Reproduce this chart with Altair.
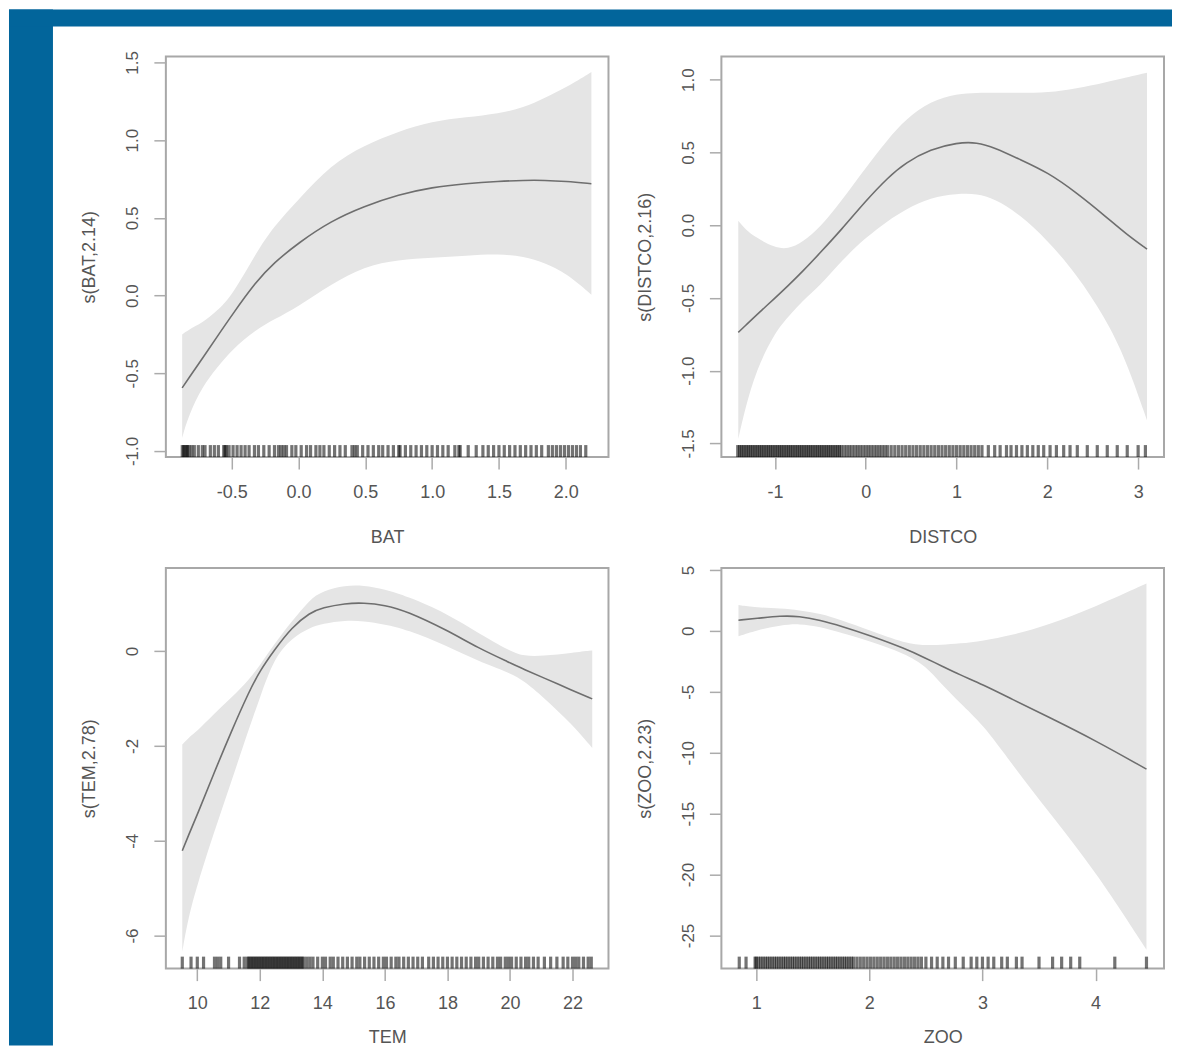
import altair as alt
import pandas as pd

BLUE = "#02659b"
TXT = "#555555"
FONT = "Liberation Sans"
BAND = "#e5e5e5"
LINE = "#6e6e6e"
W, H = 443, 401

# ---------------- BAT ----------------
bat_x = [-0.871, -0.826, -0.719, -0.612, -0.5, -0.318, -0.185, 0.0, 0.243, 0.491, 0.75, 0.998, 1.257, 1.498, 1.685, 1.845, 2.0, 2.192]
bat_fit = [-0.594, -0.537, -0.403, -0.268, -0.127, 0.09, 0.21, 0.34, 0.48, 0.575, 0.65, 0.697, 0.721, 0.735, 0.742, 0.742, 0.735, 0.72]
bat_hi = [-0.251, -0.22, -0.176, -0.10, -0.004, 0.275, 0.446, 0.618, 0.843, 0.966, 1.058, 1.122, 1.148, 1.172, 1.208, 1.273, 1.337, 1.438]
bat_lo = [-0.916, -0.777, -0.584, -0.466, -0.348, -0.219, -0.155, -0.069, 0.071, 0.189, 0.232, 0.242, 0.258, 0.268, 0.253, 0.210, 0.146, 0.006]
bat_rug = [-0.87, -0.86, -0.85, -0.84, -0.83, -0.82, -0.80, -0.78, -0.75, -0.72, -0.70, -0.66, -0.63, -0.60,
           -0.56, -0.55, -0.54, -0.52, -0.49, -0.46, -0.43, -0.40, -0.37, -0.33, -0.30, -0.26, -0.22, -0.18,
           -0.15, -0.13, -0.11, -0.09, -0.05, -0.02, 0.02, 0.06, 0.09, 0.13, 0.16, 0.19, 0.23, 0.27, 0.31,
           0.35, 0.40, 0.42, 0.44, 0.48, 0.52, 0.56, 0.60, 0.63, 0.67, 0.71, 0.75, 0.76, 0.80, 0.84, 0.88,
           0.92, 0.96, 1.00, 1.04, 1.08, 1.12, 1.17, 1.20, 1.21, 1.27, 1.33, 1.38, 1.42, 1.46, 1.50, 1.54,
           1.58, 1.62, 1.66, 1.70, 1.74, 1.78, 1.82, 1.87, 1.90, 1.93, 1.96, 1.99, 2.02, 2.05, 2.08, 2.11, 2.15]
bat_xticks = [-0.5, 0.0, 0.5, 1.0, 1.5, 2.0]
bat_yticks = [-1.0, -0.5, 0.0, 0.5, 1.0, 1.5]

# ---------------- DISTCO ----------------
dis_x = [-1.404, -1.325, -1.208, -1.012, -0.855, -0.698, -0.502, -0.267, 0.0, 0.243, 0.44, 0.714, 1.008, 1.224, 1.42, 1.694, 2.008, 2.32, 2.635, 2.87, 3.098]
dis_fit = [-0.737, -0.69, -0.62, -0.508, -0.416, -0.32, -0.19, -0.03, 0.167, 0.327, 0.43, 0.522, 0.568, 0.57, 0.533, 0.453, 0.362, 0.224, 0.064, -0.062, -0.165]
dis_hi = [0.03, -0.03, -0.085, -0.153, -0.165, -0.119, -0.016, 0.167, 0.396, 0.59, 0.728, 0.854, 0.904, 0.91, 0.911, 0.91, 0.911, 0.94, 0.98, 1.015, 1.048]
dis_lo = [-1.469, -1.252, -1.0, -0.748, -0.63, -0.52, -0.416, -0.245, -0.085, 0.03, 0.11, 0.19, 0.217, 0.217, 0.18, 0.076, -0.108, -0.336, -0.634, -0.931, -1.343]
dis_rug = [-1.41, -1.39, -1.37, -1.35, -1.33, -1.31, -1.29, -1.27, -1.25, -1.23, -1.21, -1.19, -1.17, -1.15,
           -1.13, -1.11, -1.09, -1.07, -1.05, -1.03, -1.01, -0.99, -0.97, -0.95, -0.93, -0.91, -0.89, -0.87,
           -0.85, -0.83, -0.81, -0.79, -0.77, -0.75, -0.73, -0.71, -0.69, -0.67, -0.65, -0.63, -0.61, -0.59,
           -0.57, -0.55, -0.53, -0.51, -0.49, -0.47, -0.45, -0.43, -0.41, -0.39, -0.37, -0.35, -0.33, -0.31,
           -0.29, -0.27, -0.24, -0.21, -0.18, -0.15, -0.12, -0.09, -0.06, -0.03, 0.0, 0.03, 0.06, 0.09, 0.12,
           0.15, 0.18, 0.21, 0.24, 0.28, 0.32, 0.36, 0.40, 0.44, 0.48, 0.52, 0.56, 0.60, 0.64, 0.68, 0.72,
           0.76, 0.80, 0.84, 0.88, 0.92, 0.96, 1.00, 1.04, 1.08, 1.12, 1.16, 1.20, 1.24, 1.28, 1.35, 1.42,
           1.48, 1.55, 1.60, 1.66, 1.72, 1.78, 1.84, 1.90, 1.96, 2.03, 2.10, 2.18, 2.25, 2.33, 2.44, 2.55,
           2.66, 2.77, 2.88, 3.0, 3.08]
dis_xticks = [-1, 0, 1, 2, 3]
dis_yticks = [-1.5, -1.0, -0.5, 0.0, 0.5, 1.0]

# ---------------- TEM ----------------
tem_x = [9.52, 9.71, 10.0, 10.51, 11.09, 11.66, 12.0, 12.46, 13.03, 13.6, 14.0, 14.74, 15.31, 16.0, 16.69, 18.0, 18.97, 20.0, 20.46, 21.03, 22.0, 22.63]
tem_fit = [-4.21, -3.9, -3.45, -2.61, -1.69, -0.845, -0.42, 0.02, 0.507, 0.81, 0.915, 1.007, 1.02, 0.972, 0.845, 0.437, 0.07, -0.246, -0.39, -0.549, -0.831, -1.007]
tem_hi = [-1.97, -1.83, -1.69, -1.34, -0.986, -0.6, -0.3, 0.15, 0.634, 1.09, 1.268, 1.387, 1.387, 1.303, 1.162, 0.789, 0.387, 0.0, -0.106, -0.106, -0.035, 0.014]
tem_lo = [-6.34, -5.63, -4.93, -3.87, -2.75, -1.62, -0.986, -0.14, 0.282, 0.493, 0.577, 0.648, 0.634, 0.563, 0.458, 0.106, -0.211, -0.458, -0.634, -0.951, -1.549, -2.042]
tem_rug = [9.52, 9.8, 10.0, 10.2, 10.55, 10.65, 10.75, 11.0, 11.35, 11.5,
           11.6, 11.65, 11.7, 11.75, 11.8, 11.85, 11.9, 11.95, 12.0, 12.05, 12.1, 12.15, 12.2, 12.25, 12.3,
           12.35, 12.4, 12.45, 12.5, 12.55, 12.6, 12.65, 12.7, 12.75, 12.8, 12.85, 12.9, 12.95, 13.0, 13.05,
           13.1, 13.15, 13.2, 13.25, 13.3, 13.35, 13.4, 13.5, 13.6, 13.7,
           13.85, 14.0, 14.1, 14.25, 14.35, 14.5, 14.65, 14.8, 14.95, 15.1, 15.2, 15.35, 15.5, 15.65, 15.8,
           15.95, 16.05, 16.2, 16.35, 16.45, 16.6, 16.75, 16.9, 17.05, 17.2, 17.4, 17.55, 17.7, 17.85, 18.0,
           18.15, 18.3, 18.45, 18.6, 18.75, 18.9, 19.0, 19.15, 19.3, 19.45, 19.6, 19.7, 19.85, 19.95, 20.05,
           20.2, 20.35, 20.5, 20.6, 20.75, 20.9, 21.1, 21.3, 21.5, 21.7, 21.85, 22.0, 22.1, 22.2, 22.35, 22.5, 22.6]
tem_xticks = [10, 12, 14, 16, 18, 20, 22]
tem_yticks = [-6, -4, -2, 0]

# ---------------- ZOO ----------------
zoo_x = [0.843, 1.0, 1.22, 1.377, 1.566, 1.754, 2.0, 2.32, 2.5, 2.634, 2.8, 3.0, 3.26, 3.58, 4.0, 4.45]
zoo_fit = [0.88, 1.02, 1.24, 1.21, 0.88, 0.385, -0.357, -1.46, -2.25, -2.85, -3.6, -4.4, -5.6, -7.05, -9.0, -11.35]
zoo_hi = [2.12, 1.92, 1.84, 1.70, 1.43, 0.88, 0.055, -1.04, -1.18, -1.15, -1.04, -0.82, -0.357, 0.467, 1.98, 3.9]
zoo_lo = [-0.44, 0.055, 0.467, 0.60, 0.33, -0.165, -0.82, -1.87, -2.9, -4.34, -5.9, -7.64, -10.93, -14.78, -19.73, -26.18]
zoo_rug = [0.85, 0.91, 0.99, 1.0, 1.02, 1.04, 1.06, 1.08, 1.1, 1.12, 1.14, 1.16, 1.18, 1.2, 1.22, 1.24, 1.26,
           1.28, 1.3, 1.32, 1.34, 1.36, 1.38, 1.4, 1.42, 1.44, 1.46, 1.48, 1.5, 1.52, 1.54, 1.56, 1.58, 1.6,
           1.62, 1.64, 1.66, 1.68, 1.7, 1.72, 1.74, 1.76, 1.78, 1.8, 1.82, 1.84, 1.86, 1.89, 1.92, 1.95, 1.98,
           2.01, 2.04, 2.07, 2.1, 2.13, 2.16, 2.19, 2.22, 2.25, 2.28, 2.31, 2.34, 2.37, 2.4, 2.43, 2.46, 2.5,
           2.55, 2.6, 2.65, 2.7, 2.76, 2.83, 2.9, 2.95, 3.0, 3.05, 3.1, 3.17, 3.22, 3.3, 3.35, 3.5, 3.62, 3.7,
           3.78, 3.86, 4.17, 4.45]
zoo_xticks = [1, 2, 3, 4]
zoo_yticks = [-25, -20, -15, -10, -5, 0, 5]

MINUS = "\u2212"


def lab(fmt):
    return f"replace(format(datum.value, '{fmt}'), '{MINUS}', '-')"


def panel(x, fit, lo, hi, rug, xdom, ydom, xticks, yticks, xfmt, yfmt,
          xtitle, ytitle, xtitle_off, strips=False):
    df = pd.DataFrame({"x": x, "fit": fit, "lo": lo, "hi": hi})
    rdf = pd.DataFrame({"x": rug})
    xs = alt.Scale(domain=xdom, nice=False, zero=False)
    ys = alt.Scale(domain=ydom, nice=False, zero=False)
    common = dict(domain=False, grid=False, tickSize=12, tickColor="#ababab", tickWidth=1.5,
                  labelFont=FONT, labelColor=TXT, labelFlush=False,
                  labelOverlap=False, titleFont=FONT, titleFontSize=18, titleColor=TXT,
                  titleFontWeight="normal", titleAlign="center", titleBaseline="middle")
    xaxis = alt.Axis(values=xticks, labelExpr=lab(xfmt), title=xtitle, labelFontSize=18,
                     labelPadding=23, labelBaseline="middle", labelAlign="center",
                     titleX=W / 2, titleY=xtitle_off, **common)
    yaxis = alt.Axis(values=yticks, labelExpr=lab(yfmt), title=ytitle, labelFontSize=17,
                     labelAngle=270, labelAlign="center", labelBaseline="middle",
                     labelPadding=21, titleAngle=270, titleX=-76, titleY=H / 2, **common)
    band = alt.Chart(df).mark_area(color=BAND, interpolate="basis").encode(
        x=alt.X("x:Q", scale=xs, axis=xaxis),
        y=alt.Y("lo:Q", scale=ys, axis=yaxis),
        y2="hi:Q",
    )
    line = alt.Chart(df).mark_line(color=LINE, strokeWidth=1.6, interpolate="basis").encode(
        x="x:Q", y="fit:Q"
    )
    rugm = alt.Chart(rdf).mark_rule(color="black", opacity=0.55, strokeWidth=3.2).encode(
        x="x:Q", y=alt.value(H), y2=alt.value(H - 12)
    )
    layers = []
    if strips:
        one = pd.DataFrame({"k": [0]})
        left = alt.Chart(one).mark_rect(color=BLUE).encode(
            x=alt.value(-157), x2=alt.value(-113), y=alt.value(-47), y2=alt.value(990))
        top = alt.Chart(one).mark_rect(color=BLUE).encode(
            x=alt.value(-157), x2=alt.value(1007), y=alt.value(-47), y2=alt.value(-30))
        layers += [left, top]
    layers += [band, line, rugm]
    return alt.layer(*layers).properties(width=W, height=H)


p1 = panel(bat_x, bat_fit, bat_lo, bat_hi, bat_rug, [-0.993, 2.32], [-1.039, 1.539],
           bat_xticks, bat_yticks, ".1f", ".1f", "BAT", "s(BAT,2.14)", 81, strips=True)
p2 = panel(dis_x, dis_fit, dis_lo, dis_hi, dis_rug, [-1.59, 3.285], [-1.594, 1.16],
           dis_xticks, dis_yticks, "d", ".1f", "DISTCO", "s(DISTCO,2.16)", 81)
p3 = panel(tem_x, tem_fit, tem_lo, tem_hi, tem_rug, [8.995, 23.15], [-6.697, 1.754],
           tem_xticks, tem_yticks, "d", "d", "TEM", "s(TEM,2.78)", 69)
p4 = panel(zoo_x, zoo_fit, zoo_lo, zoo_hi, zoo_rug, [0.692, 4.605], [-27.72, 5.165],
           zoo_xticks, zoo_yticks, "d", "d", "ZOO", "s(ZOO,2.23)", 69)

chart = alt.concat(p1, p2, p3, p4, columns=2, spacing={"row": 111, "column": 113},
                   bounds="flush").properties(padding=0, background="white").configure_view(
    stroke="#a8a8a8", strokeWidth=2)

chart.save("out.html", embed_options={"renderer": "svg", "actions": False})
